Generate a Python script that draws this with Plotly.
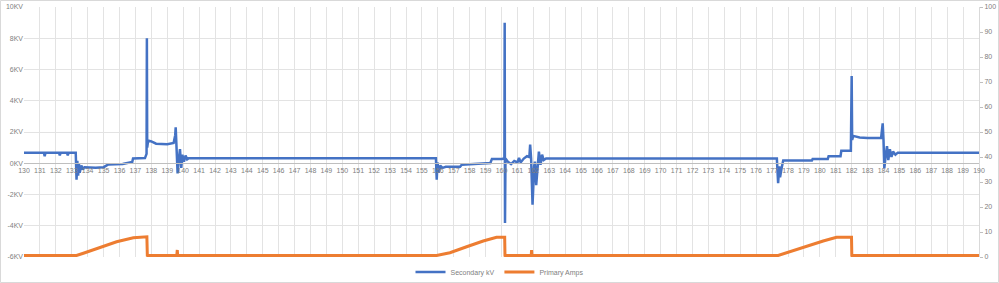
import plotly.graph_objects as go

# ---------------- data ----------------
kv_x = [130.0, 131.25, 131.3, 131.35, 132.2, 132.25, 132.3, 132.7, 132.75, 132.8, 133.25,
        133.3, 133.35, 133.4, 133.45, 133.5, 133.6, 133.7, 133.8, 134.5, 135.0, 135.3, 136.2,
        136.5, 136.8, 136.85, 137.6, 137.7, 137.72, 137.74, 137.8, 138.0, 138.3, 139.0, 139.4,
        139.5, 139.53, 139.58, 139.65, 139.72, 139.8, 139.88, 139.95, 140.05, 140.15, 140.25,
        140.35, 155.88, 155.93, 155.98, 156.05, 156.15, 156.3, 156.5, 157.4, 157.5, 158.3,
        158.8, 159.3, 159.4, 160.0, 160.18, 160.2, 160.22, 160.25, 160.4, 160.6, 160.8, 161.0,
        161.1, 161.2, 161.4, 161.6, 161.75, 161.8, 161.86, 161.95, 162.05, 162.1, 162.18,
        162.3, 162.35, 162.45, 162.55, 162.65, 162.8, 177.3, 177.38, 177.45, 177.5, 177.6,
        177.7, 179.5, 179.55, 180.5, 180.55, 181.3, 181.35, 181.95, 182.0, 182.03, 182.1,
        182.5, 183.0, 183.85, 183.95, 184.0, 184.05, 184.15, 184.22, 184.3, 184.4, 184.5,
        184.6, 184.75, 184.9, 190.0]
kv_y = [0.68, 0.68, 0.45, 0.68, 0.68, 0.5, 0.68, 0.68, 0.5, 0.68, 0.68,
        -1.05, 0.15, -0.8, 0.0, -0.6, -0.15, -0.4, -0.25, -0.28, -0.25, -0.08, -0.05,
        0.02, 0.08, 0.3, 0.33, 0.6, 8.0, 1.0, 1.45, 1.4, 1.25, 1.22, 1.3,
        1.8, 2.3, 1.2, -0.65, 0.2, 0.9, -0.3, 0.55, 0.1, 0.5, 0.25,
        0.32, 0.32, -1.05, 0.05, -0.6, -0.15, -0.3, -0.23, -0.22, -0.1, -0.08,
        -0.02, 0.02, 0.28, 0.28, 0.3, 9.0, -3.82, 0.3, 0.1, -0.05, 0.15, 0.05,
        0.35, 0.05, 0.3, 0.45, 0.4, 1.2, 0.3, -2.65, -0.2, 0.1, -1.4,
        0.6, 0.75, -0.1, 0.55, 0.2, 0.3, 0.3, -1.27, -0.2, -0.9, -0.3,
        0.17, 0.17, 0.28, 0.28, 0.45, 0.45, 0.8, 0.8, 5.59, 1.5, 1.75,
        1.65, 1.62, 1.62, 2.55, 1.5, -0.32, 0.6, 1.1, 0.2, 0.9, 0.4,
        0.75, 0.55, 0.68, 0.68]

amp_x = [130.0, 133.3, 133.73, 134.77, 135.82, 136.87, 137.4, 137.72, 137.75, 137.8,
         139.6, 139.63, 139.66, 139.7, 155.92, 156.76, 157.81, 158.85, 159.69, 160.2,
         160.22, 160.3, 161.87, 161.89, 161.91, 177.38, 178.12, 179.16, 180.21, 181.05,
         181.99, 182.01, 182.1, 190.0]
amp_y = [0.6, 0.6, 1.5, 3.9, 6.1, 7.7, 8.0, 8.1, 0.2, 0.6,
         0.6, 2.8, 0.2, 0.6, 0.6, 1.7, 4.1, 6.4, 7.9, 7.9,
         0.2, 0.6, 0.6, 2.8, 0.6, 0.6, 2.1, 4.4, 6.4, 7.9,
         7.9, 0.2, 0.6, 0.6]

x_ticks = list(range(130, 191))
kv_ticks = [-6, -4, -2, 0, 2, 4, 6, 8, 10]
kv_labels = ["-6KV", "-4KV", "-2KV", "0KV", "2KV", "4KV", "6KV", "8KV", "10KV"]
amp_ticks = [0, 10, 20, 30, 40, 50, 60, 70, 80, 90, 100]

series_names = ["Secondary kV", "Primary Amps"]
colors = ["#4472C4", "#ED7D31"]

# ---------------- figure ----------------
fig = go.Figure()
fig.add_trace(go.Scatter(x=kv_x, y=kv_y, mode="lines", name=series_names[0],
                         line=dict(color=colors[0], width=2.5), yaxis="y"))
fig.add_trace(go.Scatter(x=amp_x, y=amp_y, mode="lines", name=series_names[1],
                         line=dict(color=colors[1], width=3), yaxis="y2"))

font = dict(family="Liberation Sans", size=7, color="#808080")
grid = "#e3e3e3"

W, H = 999, 283
ml, mr, mt, mb = 24, 20, 7, 26
pw, ph = W - ml - mr, H - mt - mb

fig.update_layout(
    width=W, height=H,
    margin=dict(l=ml, r=mr, t=mt, b=mb, autoexpand=False),
    paper_bgcolor="white", plot_bgcolor="white",
    font=font,
    showlegend=True,
    legend=dict(orientation="h", x=0.5, xanchor="center", xref="container",
                y=11 / H, yanchor="middle", yref="container",
                font=font, itemwidth=30, bgcolor="rgba(0,0,0,0)"),
    xaxis=dict(range=[130, 190], tickvals=x_ticks, ticktext=[str(v) for v in x_ticks],
               showgrid=True, gridcolor=grid, gridwidth=1,
               anchor="free", position=(0 - kv_ticks[0]) / (kv_ticks[-1] - kv_ticks[0]),
               showline=True, linecolor="#bfbfbf", linewidth=1,
               ticks="", tickfont=font, zeroline=False),
    yaxis=dict(range=[kv_ticks[0], kv_ticks[-1]], tickvals=kv_ticks, ticktext=kv_labels,
               showgrid=True, gridcolor=grid, gridwidth=1, zeroline=False,
               showline=False, ticks="", tickfont=font),
    yaxis2=dict(range=[amp_ticks[0], amp_ticks[-1]], tickvals=amp_ticks,
                overlaying="y", side="right", showgrid=False, zeroline=False,
                showline=True, linecolor="#d9d9d9", ticks="outside", ticklen=3,
                tickcolor="#bfbfbf", tickfont=font),
)

# chart-area border
fig.add_shape(type="rect", xref="paper", yref="paper",
              x0=-(ml - 0.5) / pw, x1=1 + (mr - 0.5) / pw,
              y0=-(mb - 0.5) / ph, y1=1 + (mt - 0.5) / ph,
              line=dict(color="#d9d9d9", width=1), layer="below")

fig.write_html("out.html")
